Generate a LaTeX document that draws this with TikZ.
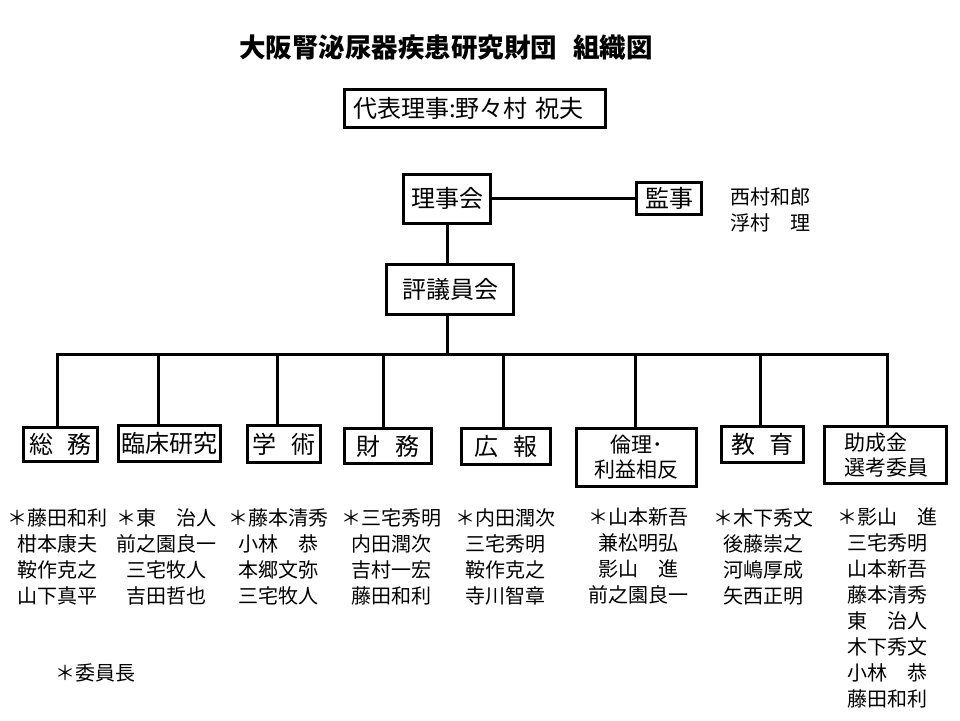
\documentclass[tikz,border=0pt]{standalone}
\usepackage{fontspec}
\setmainfont{Noto Sans CJK JP}
\usepackage{tikz}

\begin{document}
\begin{tikzpicture}[x=1pt,y=-1pt,
  box/.style={draw,line width=3pt,inner sep=0pt,font=\fontsize{24}{28}\selectfont},
  box2/.style={box,align=center,font=\fontsize{21}{25}\selectfont},
  link/.style={line width=3pt},
  names/.style={inner sep=0pt,anchor=north,align=center,font=\fontsize{20}{26}\selectfont}]
\useasboundingbox (0,0) rectangle (960,720);

% title and chair
\node[font=\fontsize{26.5}{30}\selectfont\bfseries] (title) at (446,48) {大阪腎泌尿器疾患研究財団\hspace{.6em}組織図};
\node[box,minimum height=38,text width=244,inner xsep=8.5,align=left] (rep) at (475,108.5) {代表理事:野々村 祝夫};

% board, auditors, council
\node[box,minimum width=87,minimum height=49] (board) at (447,198.5) {理事会};
\node[box,minimum width=65,minimum height=32] (audit) at (669,198) {監事};
\node[names,anchor=north west,align=left] (audit-m) at (730,187) {西村和郎\\浮村　理};
\node[box,minimum width=127,minimum height=50] (council) at (450,289.5) {評議員会};
\coordinate (bar) at (447,354);
\coordinate (bar-l) at (57,354);
\coordinate (bar-r) at (887,354);

\draw[link] (board.east) -- (board.east -| audit.west);
\draw[link] (board.south) -- (board.south |- council.north);
\draw[link] (council.south -| board.south) -- (bar);

% committees
\node[box,minimum width=74,minimum height=34] (sm) at (60.5,444.5) {総\hspace{.6em}務};
\node[box,minimum width=102,minimum height=36] (rs) at (169.5,443.5) {臨床研究};
\node[box,minimum width=73,minimum height=37] (gj) at (284,444) {学\hspace{.6em}術};
\node[box,minimum width=87,minimum height=35] (zm) at (388,446) {財\hspace{.6em}務};
\node[box,minimum width=89,minimum height=36] (kh) at (506,446.5) {広\hspace{.6em}報};
\node[box2,minimum width=120,minimum height=58] (rr) at (636.5,457.5) {倫理･\\利益相反};
\node[box,minimum width=82,minimum height=36] (ky) at (762.5,444.5) {教\hspace{.6em}育};
\node[box2,minimum width=122,minimum height=57,text width=82,align=left] (jo) at (885.5,455) {助成金\\選考委員};

\draw[link] (sm.north -| bar-l) -- (bar-l) -- (bar-r) -- (jo.north -| bar-r);
\foreach \n/\x in {rs/158,gj/277,zm/383,kh/503,rr/635,ky/760}
  \draw[link] (\x,354) -- (\n.north -| \x,0);

% members
\node[names] (sm-m) at (57,508) {＊藤田和利\\柑本康夫\\鞍作克之\\山下真平};
\node[names] (rs-m) at (166,508) {＊東　治人\\前之園良一\\三宅牧人\\吉田哲也};
\node[names] (gj-m) at (278,508) {＊藤本清秀\\小林　恭\\本郷文弥\\三宅牧人};
\node[names] (zm-m) at (391,508) {＊三宅秀明\\内田潤次\\吉村一宏\\藤田和利};
\node[names] (kh-m) at (505,508) {＊内田潤次\\三宅秀明\\鞍作克之\\寺川智章};
\node[names] (rr-m) at (638,508) {＊山本新吾\\兼松明弘\\影山　進\\前之園良一};
\node[names] (ky-m) at (763,508) {＊木下秀文\\後藤崇之\\河嶋厚成\\矢西正明};
\node[names] (jo-m) at (887,508) {＊影山　進\\三宅秀明\\山本新吾\\藤本清秀\\東　治人\\木下秀文\\小林　恭\\藤田和利};

\node[names,anchor=west] (note) at (55,673) {＊委員長};

\end{tikzpicture}
\end{document}
